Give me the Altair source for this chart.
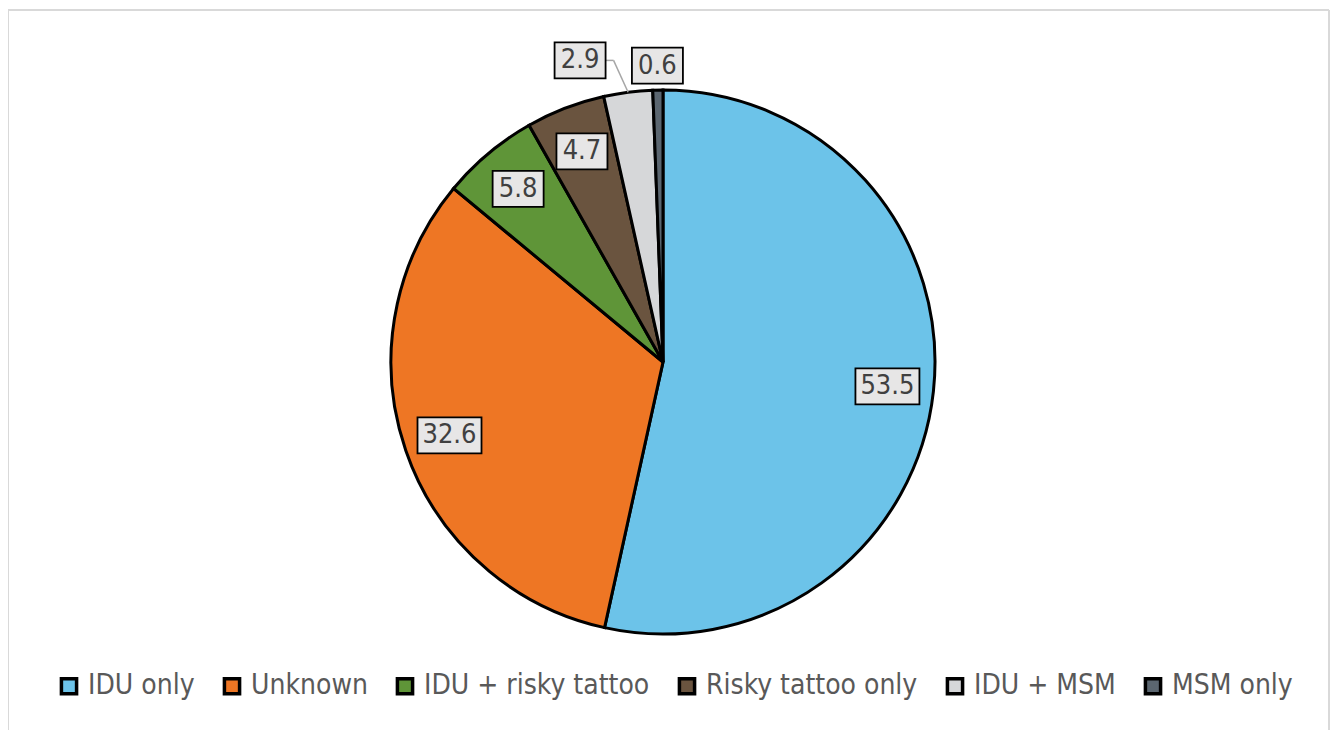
import math
import altair as alt
import pandas as pd

categories = ["IDU only", "Unknown", "IDU + risky tattoo", "Risky tattoo only", "IDU + MSM", "MSM only"]
values = [53.5, 32.6, 5.8, 4.7, 2.9, 0.6]
colors = ["#6cc3e9", "#ee7624", "#5f9538", "#6a543f", "#d6d7d9", "#5b6670"]

df = pd.DataFrame({"category": categories, "value": values, "idx": list(range(len(categories)))})

W, H = 1322, 722
CX, CY, R = 655, 354, 272
FONT = "DejaVu Sans Condensed, DejaVu Sans, sans-serif"

xs = alt.Scale(domain=[-CX / R, (W - CX) / R], range=[0, W], nice=False, zero=False)
ys = alt.Scale(domain=[-(H - CY) / R, CY / R], range=[H, 0], nice=False, zero=False)

pie = alt.Chart(df).mark_arc(radius=R, stroke="black", strokeWidth=3).encode(
    theta=alt.Theta("value:Q", stack=True),
    order=alt.Order("idx:Q"),
    color=alt.Color(
        "category:N",
        scale=alt.Scale(domain=categories, range=colors),
        legend=alt.Legend(
            title=None, orient="none", direction="horizontal", legendX=47, legendY=664,
            symbolType="square", symbolSize=230, symbolStrokeColor="black", symbolStrokeWidth=3.5,
            labelFont=FONT, labelFontSize=28, labelColor="#595959", labelLimit=0,
            labelOffset=5, columnPadding=22,
        ),
    ),
    x=alt.value(CX),
    y=alt.value(CY),
)

base = (
    alt.Chart(df)
    .transform_calculate(outer="datum.value < 4 ? 1 : 0")
    .transform_window(cum="sum(value)", cum_outer="sum(outer)", sort=[{"field": "idx"}])
    .transform_joinaggregate(total="sum(value)", total_outer="sum(outer)")
    .transform_calculate(
        mid="(datum.cum - datum.value/2)/datum.total*2*PI",
        n_after="datum.total_outer - datum.cum_outer",
        label="format(datum.value, '.1f')",
    )
    .transform_calculate(
        ang="datum.outer ? datum.mid - datum.n_after*8*PI/180 : datum.mid",
        rl="datum.outer ? 1.09 + 0.06*datum.n_after : 0.83",
    )
    .transform_calculate(
        lx="datum.rl*sin(datum.ang)",
        ly="datum.rl*cos(datum.ang)",
        hw=f"(13*length(datum.label)+12)/2/{R}",
        hh=f"18/{R}",
        ax="sin(datum.mid)",
        ay="cos(datum.mid)",
    )
    .transform_calculate(
        bx1="datum.lx - datum.hw",
        bx2="datum.lx + datum.hw",
        by1="datum.ly - datum.hh",
        by2="datum.ly + datum.hh",
        ex=f"datum.lx + datum.hw + 8/{R}",
    )
)

leader_data = base.transform_filter("datum.outer == 1 && datum.n_after > 0")
leader1 = leader_data.mark_rule(color="#a6a6a6", strokeWidth=1.5).encode(
    x=alt.X("bx2:Q", scale=xs, axis=None), x2="ex:Q",
    y=alt.Y("ly:Q", scale=ys, axis=None), y2="ly:Q",
)
leader2 = leader_data.mark_rule(color="#a6a6a6", strokeWidth=1.5).encode(
    x=alt.X("ex:Q", scale=xs, axis=None), x2="ax:Q",
    y=alt.Y("ly:Q", scale=ys, axis=None), y2="ay:Q",
)

boxes = base.mark_rect(fill="#e7e6e6", stroke="black", strokeWidth=1.8).encode(
    x=alt.X("bx1:Q", scale=xs, axis=None), x2="bx2:Q",
    y=alt.Y("by1:Q", scale=ys, axis=None), y2="by2:Q",
)
texts = base.mark_text(font=FONT, fontSize=27, color="#404040", align="center", baseline="middle").encode(
    x=alt.X("lx:Q", scale=xs, axis=None),
    y=alt.Y("ly:Q", scale=ys, axis=None),
    text="label:N",
)

frame_left = alt.Chart(df).mark_rule(color="#d9d9d9", strokeWidth=2).encode(
    x=alt.value(0), y=alt.value(2), y2=alt.value(H))
frame_top = alt.Chart(df).mark_rule(color="#d9d9d9", strokeWidth=2).encode(
    x=alt.value(0), x2=alt.value(W - 1), y=alt.value(2))
frame_right = alt.Chart(df).mark_rule(color="#d9d9d9", strokeWidth=2).encode(
    x=alt.value(W - 1), y=alt.value(2), y2=alt.value(H))

chart = (
    alt.layer(frame_left, frame_top, frame_right, pie, leader1, leader2, boxes, texts)
    .properties(width=W, height=H, padding=0, autosize=alt.AutoSizeParams(type="none"))
    .configure_view(stroke=None)
)

chart.save("out.html", embed_options={"renderer": "svg", "actions": False})
